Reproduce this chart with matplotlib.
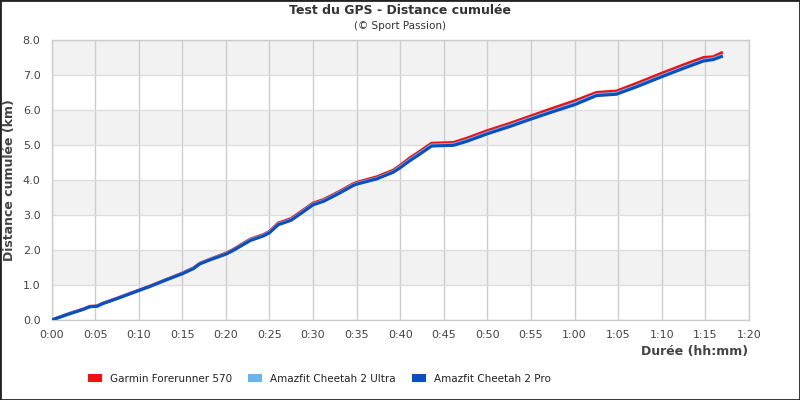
import matplotlib
matplotlib.use("Agg")
import matplotlib.pyplot as plt
from matplotlib.patches import Patch, Rectangle
from matplotlib.ticker import FixedLocator, FuncFormatter

# ---- data (minutes, km) ----
minutes = [0, 2.1, 3.6, 4.4, 5.2, 5.9, 6.7, 7.5, 9.0, 11.3,
           13.2, 15.0, 16.3, 17.0, 18.2, 20.0, 20.8, 22.8, 24.3, 25.0,
           26.0, 27.5, 28.7, 30.0, 31.2, 32.7, 34.6, 35.0, 37.3, 39.2,
           40.0, 41.1, 41.9, 43.6, 46.1, 47.6, 50.0, 52.6, 55.0, 57.5,
           60.0, 62.5, 64.8, 67.1, 70.0, 72.5, 74.8, 75.9, 77.0]

garmin = [0, 0.19, 0.31, 0.39, 0.40, 0.48, 0.55, 0.62, 0.76, 0.97,
          1.16, 1.34, 1.49, 1.62, 1.74, 1.91, 2.01, 2.31, 2.44, 2.53,
          2.77, 2.90, 3.11, 3.34, 3.44, 3.63, 3.89, 3.93, 4.09, 4.28,
          4.42, 4.63, 4.76, 5.05, 5.07, 5.19, 5.41, 5.62, 5.83, 6.05,
          6.26, 6.50, 6.54, 6.76, 7.05, 7.29, 7.50, 7.52, 7.65]

ultra = [0, 0.18, 0.30, 0.38, 0.39, 0.47, 0.54, 0.61, 0.75, 0.96,
         1.15, 1.33, 1.48, 1.61, 1.73, 1.89, 1.99, 2.29, 2.42, 2.51,
         2.74, 2.87, 3.08, 3.31, 3.41, 3.60, 3.86, 3.90, 4.05, 4.24,
         4.38, 4.58, 4.71, 5.00, 5.02, 5.13, 5.35, 5.56, 5.77, 5.98,
         6.19, 6.44, 6.48, 6.69, 6.98, 7.22, 7.43, 7.47, 7.57]

pro = [0, 0.18, 0.30, 0.38, 0.39, 0.47, 0.54, 0.61, 0.75, 0.96,
       1.15, 1.32, 1.47, 1.60, 1.72, 1.88, 1.98, 2.27, 2.40, 2.49,
       2.72, 2.85, 3.06, 3.29, 3.39, 3.58, 3.84, 3.88, 4.03, 4.22,
       4.35, 4.55, 4.68, 4.97, 4.99, 5.10, 5.32, 5.53, 5.74, 5.95,
       6.15, 6.41, 6.45, 6.66, 6.95, 7.19, 7.40, 7.44, 7.54]

series_names = ["Garmin Forerunner 570", "Amazfit Cheetah 2 Ultra", "Amazfit Cheetah 2 Pro"]
series_colors = ["#ee1111", "#6ab4ee", "#0a4fc0"]

x_ticks = list(range(0, 81, 5))
y_ticks = [0, 1, 2, 3, 4, 5, 6, 7, 8]

title = "Test du GPS - Distance cumulée"
subtitle = "(© Sport Passion)"
x_label = "Durée (hh:mm)"
y_label = "Distance cumulée (km)"

plt.rcParams['font.family'] = ['DejaVu Sans']

fig = plt.figure(figsize=(8, 4), dpi=100)
ax = fig.add_axes([51.5 / 800, 0.2, (749 - 51.5) / 800, 0.7])

ax.set_xlim(0, 80)
ax.set_ylim(0, 8)

# alternating bands
for k in range(1, 8, 2):
    ax.axhspan(k, k + 1, facecolor="#f2f2f2", edgecolor="none", zorder=0)

ax.xaxis.set_major_locator(FixedLocator(x_ticks))
ax.yaxis.set_major_locator(FixedLocator(y_ticks))
ax.xaxis.set_major_formatter(FuncFormatter(lambda v, p: f"{int(v)//60}:{int(v)%60:02d}"))
ax.yaxis.set_major_formatter(FuncFormatter(lambda v, p: f"{v:.1f}"))

for t in x_ticks:
    ax.axvline(t, color="#cccccc", lw=1, zorder=1)
for v in y_ticks:
    ax.axhline(v, color="#dddddd", lw=1, zorder=1)

for s in ax.spines.values():
    s.set_color("#cccccc")
    s.set_linewidth(1)

ax.tick_params(length=0, labelsize=8, labelcolor="#444444")
ax.tick_params(axis='y', pad=8)
ax.tick_params(axis='x', pad=7)

for vals, c in zip([garmin, ultra, pro], series_colors):
    ax.plot(minutes, vals, color=c, lw=2.2, zorder=3, solid_capstyle='butt')

fig.text(0.5, 1 - 11 / 400, title, ha='center', va='center', fontsize=9,
         fontweight='bold', color="#333333")
fig.text(0.5, 1 - 26 / 400, subtitle, ha='center', va='center', fontsize=7.5,
         color="#333333")
fig.text(10 / 800, 1 - 180 / 400, y_label, rotation=90, ha='center', va='center',
         fontsize=9, fontweight='bold', color="#444444")
fig.text(748 / 800, 1 - 352 / 400, x_label, ha='right', va='center',
         fontsize=9, fontweight='bold', color="#444444")

handles = [Patch(facecolor=c, edgecolor=c, linewidth=1.5, joinstyle='round') for c in series_colors]
fig.legend(handles, series_names, loc='center left', bbox_to_anchor=(89 / 800, 1 - 379 / 400),
           ncol=3, frameon=False, fontsize=7.5, handlelength=1.15, handleheight=0.55,
           handletextpad=0.85, columnspacing=1.65, borderpad=0, borderaxespad=0,
           labelcolor="#222222")

fig.patches.append(Rectangle((0, 0), 1, 1, transform=fig.transFigure, fill=False,
                             edgecolor="#222222", lw=2, zorder=10))

fig.savefig("out.png", dpi=100)
